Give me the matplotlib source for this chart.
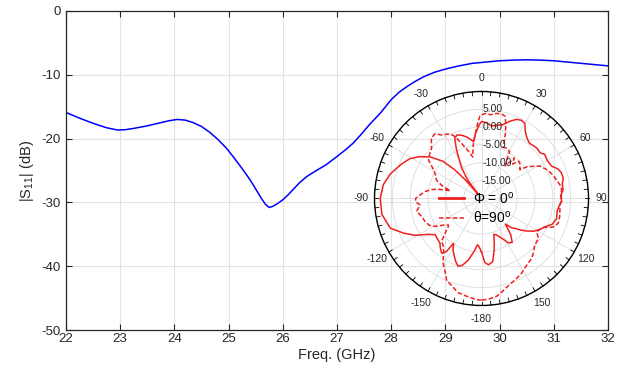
import matplotlib
matplotlib.use("Agg")
import matplotlib.pyplot as plt
import numpy as np

plt.rcParams["font.family"] = ["Liberation Sans", "DejaVu Sans"]
plt.rcParams["mathtext.fontset"] = "custom"
plt.rcParams["mathtext.rm"] = "Liberation Sans"
plt.rcParams["mathtext.it"] = "Liberation Sans:italic"
plt.rcParams["axes.unicode_minus"] = False

# S11 vs frequency
freq = [22.0, 22.25, 22.5, 22.75, 22.95, 23.1, 23.25, 23.5, 23.75, 23.9, 24.05, 24.2,
        24.35, 24.5, 24.65, 24.8, 24.96, 25.1, 25.25, 25.4, 25.5, 25.6, 25.68, 25.75,
        25.82, 25.9, 26.0, 26.1, 26.2, 26.31, 26.45, 26.6, 26.8, 27.0, 27.15, 27.3,
        27.45, 27.6, 27.8, 28.0, 28.15, 28.3, 28.45, 28.6, 28.8, 29.0, 29.25, 29.5,
        29.75, 30.0, 30.25, 30.5, 30.75, 31.0, 31.25, 31.5, 31.75, 32.0]
s11 = [-15.9, -16.8, -17.6, -18.3, -18.65, -18.6, -18.4, -18.0, -17.5, -17.2, -17.0, -17.1,
       -17.5, -18.1, -19.0, -20.1, -21.5, -23.0, -24.7, -26.5, -27.9, -29.3, -30.3, -30.8,
       -30.6, -30.2, -29.6, -28.8, -27.9, -26.9, -25.9, -25.1, -24.1, -22.8, -21.8, -20.7,
       -19.3, -17.8, -16.0, -13.9, -12.7, -11.8, -11.0, -10.3, -9.6, -9.1, -8.6, -8.2,
       -8.0, -7.8, -7.7, -7.65, -7.7, -7.8, -8.0, -8.2, -8.4, -8.6]

# radiation pattern, Phi = 0 deg (angle in deg, gain in dB)
phi0_ang = [-180, -177, -175, -172, -168, -164, -161, -158, -155, -151, -148, -146.5,
            -144, -140, -137, -133, -128, -124, -119, -114, -108, -99, -90, -82, -75,
            -67, -61, -56, -51, -46, -43, -41, -39, -37, -35, -33, -30, -27, -24, -21,
            -17, -13, -8, -5, -2, 0, 4, 8, 12, 16, 20, 24, 27, 30, 33, 37, 41, 45, 48,
            52, 55, 60, 65, 69, 72, 76, 80, 84, 88, 92, 96, 100, 105, 110, 114, 118,
            122, 126, 129, 132, 134, 137, 141, 145, 149, 153, 158, 161, 164, 167, 170,
            174, 177, 180]
phi0_db = [-5.0, -6.5, -7.0, -5.0, -2.4, -0.5, 0.1, -0.8, -2.0, -3.5, -5.2, -2.2,
           -1.0, -2.0, -2.9, -3.2, -3.5, -2.0, 1.3, 3.9, 6.9, 8.3, 8.4, 7.8, 6.5,
           4.5, 3.0, 1.0, -1.5, -5.0, -9.0, -13.0, -18.5, -14.0, -12.0, -9.9, -7.5, -4.5, -1.5, -0.9,
           -1.5, -2.4, -3.9, -1.5, 0.5, 1.6, 1.3, 0.5, 1.0, 1.5, 3.0, 4.3, 4.6, 4.3, 2.5, 1.2, 0.5, 0.8, 1.0,
           0.8, 1.6, 1.3, 1.6, 3.0, 3.5, 3.6, 3.0, 3.0, 2.2, 2.5, 1.8, 1.5, 1.8, 1.1, -0.5, -1.5,
           -2.7, -4.5, -6.0, -7.5, -8.1, -10.2, -7.0, -5.0, -5.5, -7.5, -9.0, -9.4, -7.0, -4.5, -2.0,
           -1.3, -2.0, -5.0]

# radiation pattern, theta = 90 deg
th90_ang = [-180, -177, -172, -166, -161, -157, -152, -149, -145, -141.6, -137, -133.6,
            -130, -128.6, -125, -121, -117, -112, -107, -101, -96, -93, -90, -86, -83,
            -80, -78, -76, -73, -68, -63, -59, -54, -49, -45, -40, -36, -32, -26, -23,
            -19, -15, -12, -9, -6, -3, -1, 3, 6, 10, 13, 16, 18, 20, 23, 27, 31, 33, 36,
            39, 42, 45, 49, 53, 55, 58, 61, 65, 68, 72, 76, 80, 83, 87, 91, 95, 98, 103,
            108, 112, 115, 118, 121, 125, 131, 136, 140, 146, 152, 157, 162, 167, 171, 176, 180]
th90_db = [8.5, 8.4, 7.8, 7.2, 5.8, 5.0, 2.1, 1.0, -1.5, -2.8, -3.6, -5.9,
           -7.9, -8.1, -7.0, -4.8, -3.5, -2.9, -2.5, -1.5, -2.7, -1.5, -1.5, -3.0, -4.1,
           -5.6, -7.5, -11.0, -8.8, -6.4, -5.5, -4.3, -1.6, -0.8, -0.2, 1.9, 2.4, 1.0, 0.2, -1.2,
           -4.2, -6.5, -8.1, -5.0, -2.2, 1.0, 3.3, 3.9, 3.6, 4.2, 4.4, 4.0, 2.0, -0.3, -4.4, -4.2, -4.7, -7.0, -8.7,
           -5.4, -7.0, -5.2, -5.6, -6.6, -4.5, -3.0, -1.3, -0.3, 0.4, 1.1, 1.6, 2.3, 2.6, 2.4, 2.4, 2.0, 2.2, 2.5,
           2.6, 1.5, -0.8, -1.5, -2.0, -0.5, -0.2, 1.0, 1.9, 2.6, 3.8, 4.6, 5.4, 6.6, 7.7, 8.3, 8.5]

theta_ticks = [0, 30, 60, 90, 120, 150, 180, 210, 240, 270, 300, 330]
theta_labels = ["0", "30", "60", "90", "120", "150", "-180", "-150", "-120", "-90", "-60", "-30"]
r_ticks = [-15, -10, -5, 0, 5]
r_labels = ["-15.00", "-10.00", "-5.00", "0.00", "5.00"]

text_col = "#262626"
fig = plt.figure(figsize=(6.32, 3.74), dpi=100)

ax = fig.add_axes([0.1044, 0.1176, 0.8576, 0.853])
ax.plot(freq, s11, color="#0000ff", lw=1.1)
ax.set_xlim(22, 32)
ax.set_ylim(-50, 0)
ax.set_xticks(range(22, 33))
ax.set_yticks(range(-50, 1, 10))
ax.grid(True, color="#e3e3e3", lw=0.8)
ax.tick_params(direction="in", top=True, right=True, length=4, width=0.8,
               labelsize=9.5, colors=text_col)
ax.tick_params(axis="x", pad=2)
for s in ax.spines.values():
    s.set_color("#262626")
    s.set_linewidth(0.9)
ax.set_xlabel("Freq. (GHz)", fontsize=10.5, color=text_col, labelpad=2)
ax.set_ylabel("|S$_{11}$| (dB)", fontsize=10.5, color=text_col, labelpad=4)

# polar inset
pa = fig.add_axes([0.5926, 0.1832, 0.3386, 0.5722], projection="polar")
pa.patch.set_alpha(0)
pa.set_theta_zero_location("N")
pa.set_theta_direction(-1)
pa.set_ylim(-20, 10)
pa.set_rticks(r_ticks)
pa.set_yticklabels([])
pa.set_thetagrids(theta_ticks, theta_labels, fontsize=7.5, color=text_col)
pa.tick_params(axis="x", pad=-1)
pa.grid(True, color="#dcdcdc", lw=0.6)
pa.spines["polar"].set_color("black")
pa.spines["polar"].set_linewidth(1.0)
for r, lab in zip(r_ticks, r_labels):
    pa.text(np.deg2rad(1), r, lab, ha="left", va="center", fontsize=7.5, color=text_col)
for a in range(0, 360, 5):
    pa.plot([np.deg2rad(a)] * 2, [8.9, 10], color="black", lw=0.6, clip_on=False)

pa.plot(np.deg2rad(phi0_ang), phi0_db, color="#f02020", lw=1.1,
        label="Φ = 0$^{\\mathrm{o}}$")
pa.plot(np.deg2rad(th90_ang), th90_db, color="#f02020", lw=1.1, dashes=(3, 1.5),
        label="θ=90$^{\\mathrm{o}}$")
leg = pa.legend(loc="center", bbox_to_anchor=(477 / 632, 1 - 208 / 374),
                bbox_transform=fig.transFigure, frameon=False, fontsize=10,
                handlelength=1.8, handletextpad=0.6, labelspacing=0.25)
leg.get_lines()[0].set_linewidth(2.0)

fig.savefig("out.png", dpi=100)
